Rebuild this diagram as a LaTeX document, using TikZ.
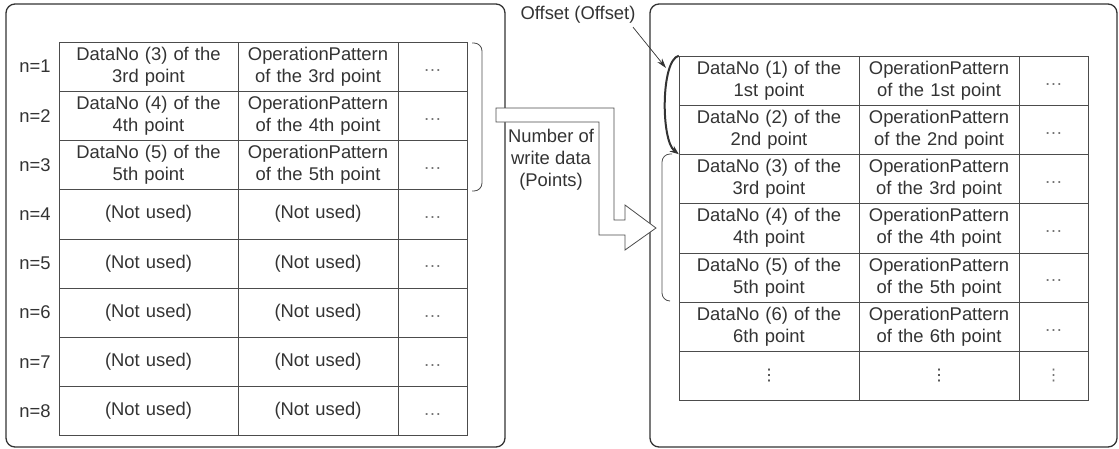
\documentclass[tikz,border=0pt]{standalone}
\usepackage{fontspec}
\setmainfont{Liberation Sans}
\newfontfamily\simbols{DejaVu Sans}
\usetikzlibrary{arrows.meta}

\tikzset{
	cell/.style={draw=Linia,text=Text,align=center,inner sep=0pt,text width=#1,minimum height=49.2pt},
	punts/.style={cell=69pt,text=black!55},
	marc/.style={draw=Vora,line width=1.3pt,rounded corners=9pt},
	clau/.style={draw=Linia,line width=.8pt,rounded corners=8pt}
}
\newcommand\DadaNo[2]{DataNo (#1) of the\\#2 point}
\newcommand\Patro[1]{OperationPattern\\of the #1 point}

\begin{document}
\begin{tikzpicture}[x=1pt,y=-1pt,font=\fontsize{18.4}{22}\selectfont]
	\colorlet{Linia}{black!70}
	\colorlet{Vora}{black!80}
	\colorlet{Text}{black!80}
	\def\PanellA{(6,4) rectangle (505,447)}
	\def\PanellB{(650,4) rectangle (1117,447)}
	\def\Fletxa{(496,108) -- (614,108) -- (614,220) -- (625,220) -- (625,205) -- (656,228) -- (625,250) -- (625,235) -- (599,235) -- (599,122) -- (496,122) -- cycle}
	\useasboundingbox (0,0) rectangle (1119,448);
	\draw[marc] \PanellA;
	\draw[marc] \PanellB;
	\foreach \fila in {1,...,8}{
		\node[text=Text] (n-\fila) at (35,17.4+49.2*\fila) {n=\fila};
		\node[punts] (A-\fila-3) at (432.5,17.4+49.2*\fila) {\strut\ldots};
	}
	\node[cell=179pt] (A-1-1) at (148.5,66.6) {\DadaNo{3}{3rd}};
	\node[cell=179pt] (A-2-1) at (148.5,115.8) {\DadaNo{4}{4th}};
	\node[cell=179pt] (A-3-1) at (148.5,165) {\DadaNo{5}{5th}};
	\node[cell=160pt] (A-1-2) at (318,66.6) {\Patro{3rd}};
	\node[cell=160pt] (A-2-2) at (318,115.8) {\Patro{4th}};
	\node[cell=160pt] (A-3-2) at (318,165) {\Patro{5th}};
	\foreach \fila in {4,...,8}{
		\node[cell=179pt] (A-\fila-1) at (148.5,17.4+49.2*\fila) {(Not used)};
		\node[cell=160pt] (A-\fila-2) at (318,17.4+49.2*\fila) {(Not used)};
	}
	\foreach \fila/\ordre in {1/1st,2/2nd,3/3rd,4/4th,5/5th,6/6th}{
		\node[cell=180pt] (B-\fila-1) at (769,31.4+49.2*\fila) {\DadaNo{\fila}{\ordre}};
		\node[cell=160pt] (B-\fila-2) at (939,31.4+49.2*\fila) {\Patro{\ordre}};
		\node[punts] (B-\fila-3) at (1053.5,31.4+49.2*\fila) {\strut\ldots};
	}
	\node[cell=180pt,font=\simbols\fontsize{16}{20}\selectfont] (B-7-1) at (769,375.8) {⋮};
	\node[cell=160pt,font=\simbols\fontsize{16}{20}\selectfont] (B-7-2) at (939,375.8) {⋮};
	\node[punts,font=\simbols\fontsize{16}{20}\selectfont] (B-7-3) at (1053.5,375.8) {⋮};
	\draw[clau] (472,43) -- (482,43) -- (482,191) -- (472,191);
	\draw[clau] (672,154) -- (662,154) -- (662,301) -- (670,301);
	\draw[Linia,line width=.8pt,fill=white] \Fletxa;
	\node[text=Text,align=center] (punts) at (551,160) {Number of\\write data\\(Points)};
	\node[text=Text] (offset) at (578,15) {Offset (Offset)};
	\coordinate (punta) at (666,68);
	\draw[Vora,line width=.7pt,-{Stealth[length=10pt,width=6pt]}] ([xshift=-6pt]offset.south east) -- (punta);
	\draw[Vora,line width=2pt,-{Stealth[length=9pt,width=7pt]}] (B-1-1.north west) .. controls +(-18,4) and +(-18,-14) .. (B-3-1.north west);
\end{tikzpicture}
\end{document}
